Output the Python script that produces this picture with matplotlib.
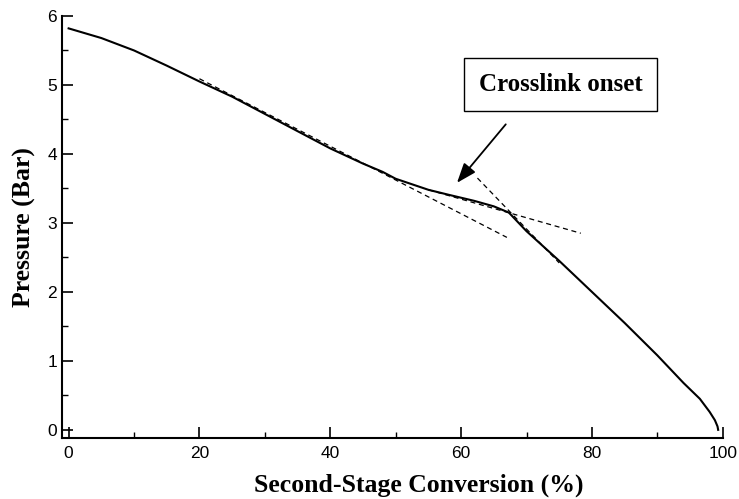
import matplotlib
matplotlib.use("Agg")
import matplotlib.pyplot as plt
import numpy as np
from matplotlib.ticker import MultipleLocator

# main curve
conversion = [0, 5, 10, 15, 20, 25, 30, 35, 40, 45, 48, 50, 55, 58, 62, 65, 67.3,
              70, 75, 80, 85, 90, 94, 96.5, 98, 98.8, 99.2, 99.3]
pressure = [5.82, 5.68, 5.50, 5.28, 5.05, 4.83, 4.58, 4.33, 4.08, 3.86, 3.74, 3.64,
            3.48, 3.41, 3.32, 3.24, 3.15, 2.88, 2.45, 2.00, 1.55, 1.08, 0.68, 0.45,
            0.26, 0.14, 0.05, 0.0]

# tangent lines (dashed)
tan1_x = [20, 67.0]
tan1_y = [5.09, 2.79]
tan2_x = [62.5, 75]
tan2_y = [3.65, 2.42]
tan3_x = [55, 78.3]
tan3_y = [3.48, 2.85]

serif = ["Liberation Serif", "DejaVu Serif"]
sans = ["Liberation Sans", "DejaVu Sans"]

fig = plt.figure(figsize=(7.39, 4.99), dpi=100)
ax = fig.add_axes([0.084, 0.122, 0.894, 0.846])

ax.plot(conversion, pressure, color="black", lw=1.5)
for tx, ty in [(tan1_x, tan1_y), (tan2_x, tan2_y), (tan3_x, tan3_y)]:
    ax.plot(tx, ty, color="black", lw=0.9, ls=(0, (4, 3)))

ax.set_xlim(-1, 100)
ax.set_ylim(-0.12, 6)
ax.xaxis.set_major_locator(MultipleLocator(20))
ax.xaxis.set_minor_locator(MultipleLocator(10))
ax.yaxis.set_major_locator(MultipleLocator(1))
ax.yaxis.set_minor_locator(MultipleLocator(0.5))
ax.tick_params(which="major", direction="in", length=8, width=1.2, labelsize=12.5)
ax.tick_params(which="minor", direction="in", length=4, width=1.0)
for lab in ax.get_xticklabels() + ax.get_yticklabels():
    lab.set_family(sans)
ax.tick_params(axis="x", pad=6)

for s in ["top", "right"]:
    ax.spines[s].set_visible(False)
for s in ["left", "bottom"]:
    ax.spines[s].set_linewidth(1.5)

ax.set_xlabel("Second-Stage Conversion (%)", family=serif, fontweight="bold",
              fontsize=18.5)
ax.xaxis.set_label_coords(0.54, -0.083)
ax.set_ylabel("Pressure (Bar)", family=serif, fontweight="bold", fontsize=18.5,
              labelpad=8)

ax.annotate("", xy=(59.1, 3.55), xytext=(67.1, 4.46),
            arrowprops=dict(arrowstyle="-|>,head_length=1.2,head_width=0.45",
                            color="black", lw=1.3))
ax.text(75.2, 5.0, "Crosslink onset", family=serif, fontweight="bold", fontsize=18,
        ha="center", va="center",
        bbox=dict(boxstyle="square,pad=0.6", fc="white", ec="black", lw=1.0))

fig.savefig("out.png", dpi=100)
